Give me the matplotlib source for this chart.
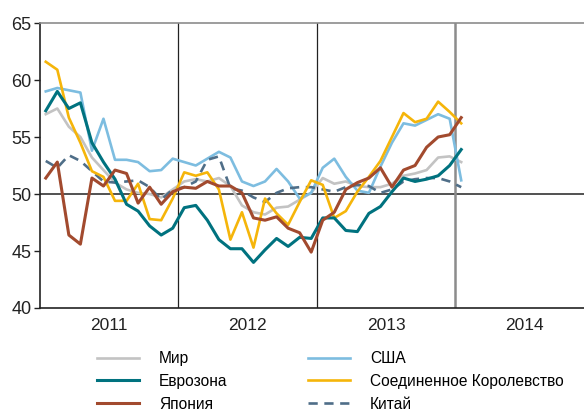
import numpy as np
import matplotlib
matplotlib.use("Agg")
import matplotlib.pyplot as plt

plt.rcParams['font.family'] = ['Liberation Sans', 'DejaVu Sans']

# Индексы PMI, месяцы с января 2011 по январь 2014
years = ["2011", "2012", "2013", "2014"]

world = [57.0, 57.5, 55.9, 55.0, 53.2, 52.1, 51.0, 50.4, 50.1, 50.0, 49.7, 50.4,
         51.1, 51.3, 51.1, 51.4, 50.7, 49.0, 48.4, 48.2, 48.8, 48.9, 49.5, 50.1,
         51.4, 50.9, 51.1, 50.7, 50.6, 50.6, 50.9, 51.6, 51.8, 52.1, 53.2, 53.3,
         52.8]
eurozone = [57.3, 59.0, 57.5, 58.0, 54.5, 52.8, 51.3, 49.1, 48.5, 47.2, 46.4, 47.0,
            48.8, 49.0, 47.7, 46.0, 45.2, 45.2, 44.0, 45.1, 46.1, 45.4, 46.2, 46.1,
            47.9, 47.9, 46.8, 46.7, 48.3, 48.9, 50.2, 51.4, 51.1, 51.3, 51.6, 52.5,
            53.9]
japan = [51.4, 52.8, 46.4, 45.6, 51.4, 50.7, 52.1, 51.8, 49.2, 50.6, 49.1, 50.2,
         50.6, 50.5, 51.1, 50.7, 50.7, 50.1, 47.9, 47.7, 48.0, 47.0, 46.6, 44.9,
         47.7, 48.4, 50.4, 51.0, 51.4, 52.3, 50.6, 52.1, 52.5, 54.1, 55.0, 55.2,
         56.7]
usa = [59.0, 59.3, 59.1, 58.9, 53.8, 56.6, 53.0, 53.0, 52.8, 52.0, 52.1, 53.1,
       52.8, 52.5, 53.1, 53.7, 53.2, 51.1, 50.7, 51.1, 52.2, 51.1, 49.6, 50.1,
       52.3, 53.1, 51.5, 50.3, 50.1, 52.4, 54.5, 56.2, 56.0, 56.5, 57.0, 56.6,
       51.2]
uk = [61.6, 60.9, 56.7, 54.5, 52.0, 51.5, 49.4, 49.4, 50.9, 47.8, 47.7, 49.6,
      51.9, 51.6, 51.9, 50.4, 46.0, 48.4, 45.3, 49.6, 48.3, 47.3, 49.3, 51.2,
      50.8, 47.9, 48.5, 50.2, 51.5, 52.9, 55.0, 57.1, 56.3, 56.6, 58.1, 57.2,
      56.2]
china = [52.9, 52.3, 53.4, 52.9, 52.0, 51.1, 51.0, 51.1, 51.2, 50.6, 49.5, 50.4,
         50.6, 51.1, 53.0, 53.3, 50.5, 50.3, 49.7, 49.3, 50.1, 50.5, 50.6, 50.6,
         50.4, 50.2, 50.6, 50.8, 50.7, 50.1, 50.4, 51.1, 51.3, 51.4, 51.4, 51.1,
         50.6]

months = np.arange(len(world)) + 0.5

fig = plt.figure(figsize=(5.84, 4.17), dpi=100)
ax = fig.add_axes([40 / 584, 109 / 417, 544 / 584, 285 / 417])

l_world, = ax.plot(months, world, color="#c3c3c3", lw=1.9)
l_usa, = ax.plot(months, usa, color="#7dbde0", lw=1.9)
l_china, = ax.plot(months, china, color="#4f6e88", lw=1.9, ls=(0, (3.5, 2.5)))
l_uk, = ax.plot(months, uk, color="#f5b50a", lw=1.9)
l_euro, = ax.plot(months, eurozone, color="#00727f", lw=2.2)
l_japan, = ax.plot(months, japan, color="#a24a2e", lw=2.2)

ax.axhline(50, color="#222222", lw=1.1, zorder=1)
ax.axvline(12, color="#222222", lw=0.9, zorder=1)
ax.axvline(24, color="#222222", lw=0.9, zorder=1)
ax.axvline(36, color="#8c8c8c", lw=1.8, zorder=1)

ax.set_xlim(0, 544 / 11.54)
ax.set_ylim(40, 65)
ax.set_yticks([40, 45, 50, 55, 60, 65])
ax.tick_params(axis="y", labelsize=13, length=4, width=1, color="#222222",
               labelcolor="#222222", pad=2)
ax.set_xticks([6, 18, 30, 42])
ax.set_xticklabels(years)
ax.tick_params(axis="x", labelsize=12.5, length=0, labelcolor="#222222", pad=7)

ax.spines["right"].set_visible(False)
ax.spines["top"].set_color("#8c8c8c")
ax.spines["top"].set_linewidth(1.2)
ax.spines["left"].set_color("#222222")
ax.spines["bottom"].set_color("#222222")
ax.spines["left"].set_linewidth(1.2)
ax.spines["bottom"].set_linewidth(1.2)

leg_kw = dict(loc="upper left", frameon=False, fontsize=11.2, handlelength=2.7,
              handletextpad=1.3, labelspacing=0.5, borderpad=0, borderaxespad=0)
fig.legend([l_world, l_euro, l_japan], ["Мир", "Еврозона", "Япония"],
           bbox_to_anchor=(97 / 584, 1 - 351 / 417), **leg_kw)
fig.legend([l_usa, l_uk, l_china], ["США", "Соединенное Королевство", "Китай"],
           bbox_to_anchor=(308 / 584, 1 - 351 / 417), **leg_kw)

fig.savefig("out.png", dpi=100)
